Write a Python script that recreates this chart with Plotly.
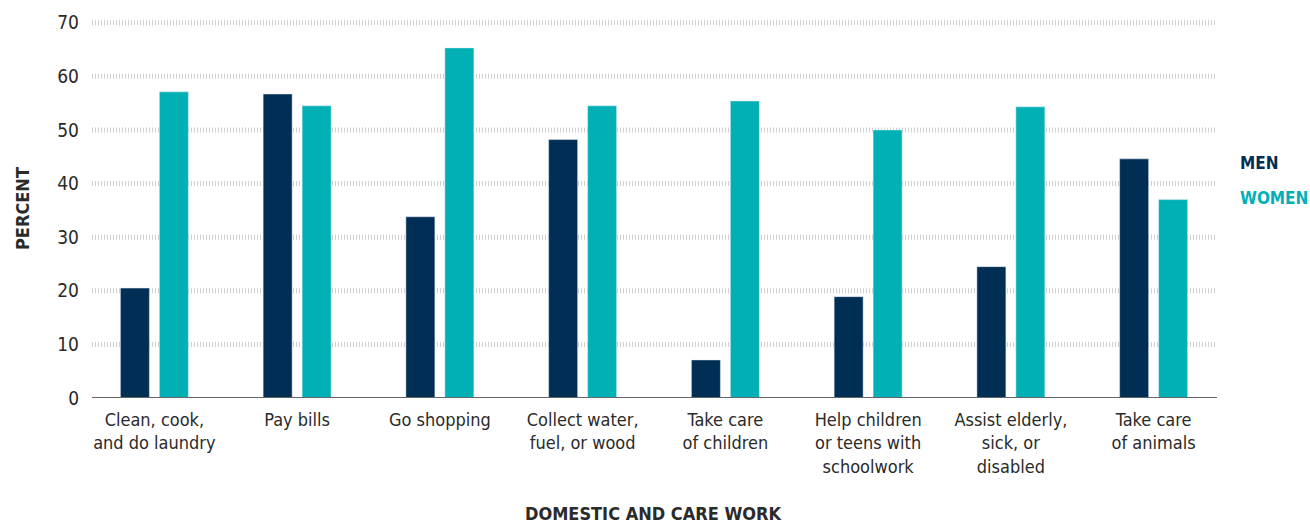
import plotly.graph_objects as go

categories = ["Clean, cook,<br>and do laundry", "Pay bills", "Go shopping",
              "Collect water,<br>fuel, or wood", "Take care<br>of children",
              "Help children<br>or teens with<br>schoolwork", "Assist elderly,<br>sick, or<br>disabled",
              "Take care<br>of animals"]
men = [20.5, 56.7, 33.8, 48.2, 7.1, 18.9, 24.5, 44.6]
women = [57.1, 54.5, 65.3, 54.5, 55.4, 50.0, 54.3, 37.0]
y_ticks = [0, 10, 20, 30, 40, 50, 60, 70]

NAVY = "#012e55"
TEAL = "#00b0b5"
FONT = "DejaVu Sans Condensed, Liberation Sans Narrow, sans-serif"

L, R = 83, 85
PW = 1310 - L - R
PH = 523 - 20 - 125
gx0 = (92 - L) / PW
gx1 = (1217 - L) / PW

fig = go.Figure()
fig.add_trace(go.Bar(x=categories, y=men, name="MEN", marker_color=NAVY, showlegend=False))
fig.add_trace(go.Bar(x=categories, y=women, name="WOMEN", marker_color=TEAL, showlegend=False))

shapes = []
for t in y_ticks[1:]:
    shapes.append(dict(type="line", xref="paper", yref="y", x0=gx0, x1=gx1, y0=t, y1=t,
                       line=dict(color="#cfcfcf", width=5, dash="1px,2px"), layer="below"))
shapes.append(dict(type="line", xref="paper", yref="y", x0=gx0, x1=gx1, y0=0, y1=0,
                   line=dict(color="#666666", width=2), layer="above"))

fig.update_layout(
    width=1310, height=523,
    margin=dict(l=L, r=R, t=20, b=125, autoexpand=False),
    paper_bgcolor="white", plot_bgcolor="white",
    barmode="group", bargap=0.454, bargroupgap=0.256,
    font=dict(family=FONT, size=18, color="#2a2a2a"),
    shapes=shapes,
)
fig.update_yaxes(
    range=[0, 70.5], tickvals=y_ticks, showgrid=False,
    zeroline=False, showline=False,
    ticklabelstandoff=3, tickfont=dict(size=19), automargin=False,
)
fig.update_xaxes(
    showline=False, showgrid=False,
    ticklabelstandoff=9, tickfont=dict(size=18), automargin=False,
)
fig.add_annotation(text="<b>PERCENT</b>", xref="paper", yref="paper",
                   x=-(83 - 22) / PW, y=0.5, textangle=-90, xanchor="center", yanchor="middle",
                   showarrow=False, font=dict(size=18))
fig.add_annotation(text="<b>DOMESTIC AND CARE WORK</b>", xref="paper", yref="paper",
                   x=(654 - L) / PW, y=-115 / PH, xanchor="center", yanchor="middle",
                   showarrow=False, font=dict(size=18))
fig.add_annotation(text="<b>MEN</b>", xref="paper", yref="paper", x=(1238 - L) / PW, y=(398 - 163) / PH,
                   xanchor="left", yanchor="middle", showarrow=False,
                   font=dict(size=17, color=NAVY))
fig.add_annotation(text="<b>WOMEN</b>", xref="paper", yref="paper", x=(1238 - L) / PW, y=(398 - 198) / PH,
                   xanchor="left", yanchor="middle", showarrow=False,
                   font=dict(size=17, color=TEAL))

fig.write_html("out.html")
